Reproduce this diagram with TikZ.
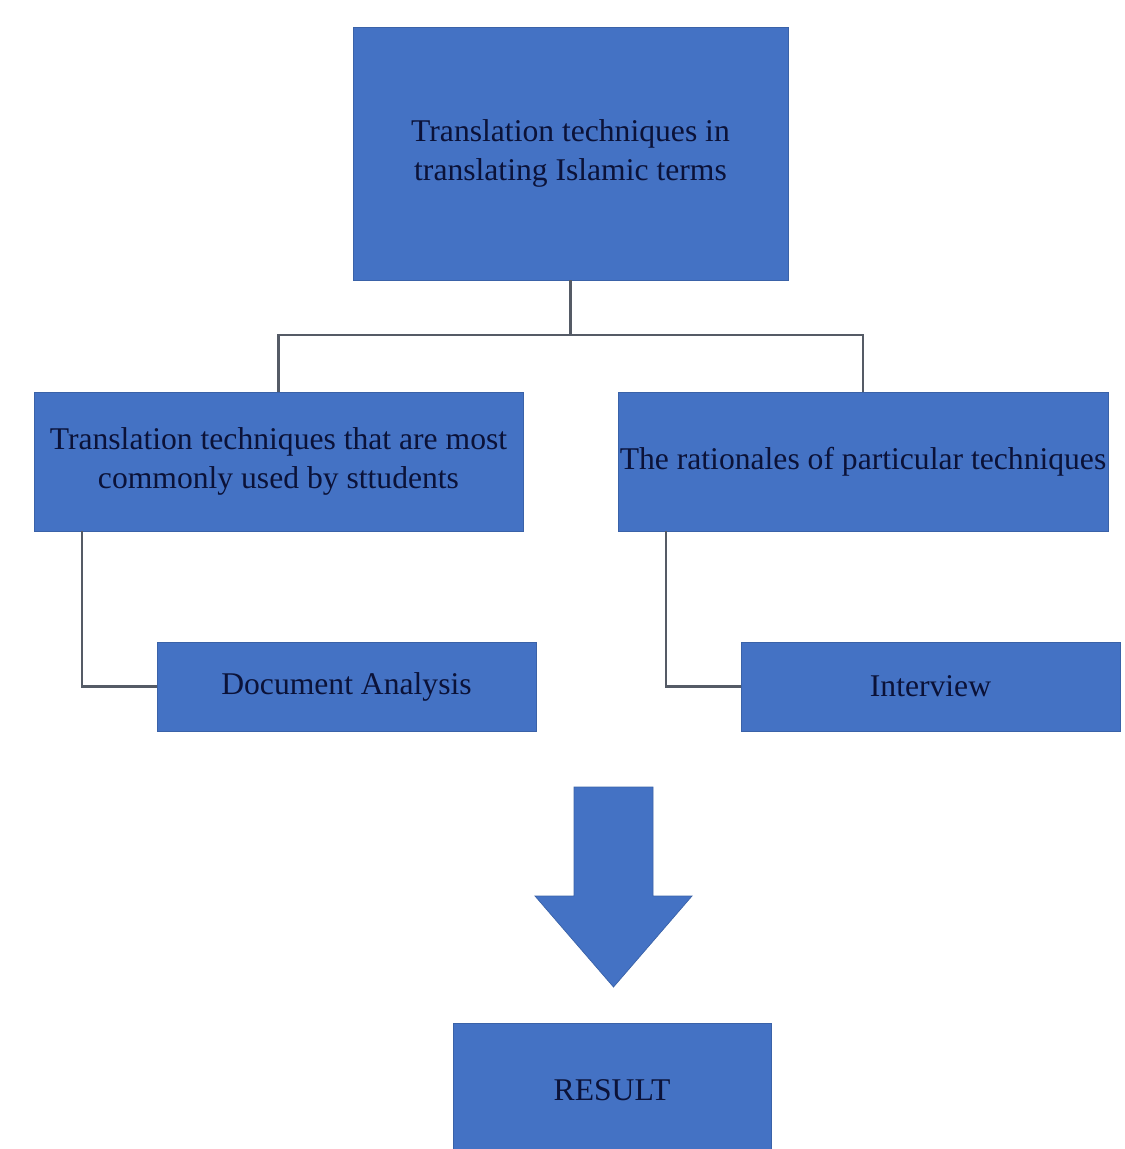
\documentclass[tikz,border=0pt]{standalone}
\usepackage{fontspec}
\setmainfont{Liberation Serif}
\usetikzlibrary{positioning}
\definecolor{boxBlue}{HTML}{4472C4}
\definecolor{boxEdge}{HTML}{3A62A8}
\definecolor{inkNavy}{HTML}{0B1238}
\definecolor{lineGray}{HTML}{555B66}

\begin{document}
\begin{tikzpicture}[x=0.02cm, y=-0.02cm,
                    blkND/.style={rectangle,
                                  fill=boxBlue,
                                  draw=boxEdge,
                                  line width=0.4pt,
                                  inner sep=0pt,
                                  align=center,
                                  text=inkNavy,
                                  font=\fontsize{18}{22}\selectfont},
                    lnk/.style={draw=lineGray, line width=1.2pt}]
            \useasboundingbox (0,0) rectangle (1125,1149);
            % boxes
            \node[blkND, minimum width=8.7cm, minimum height=5.06cm] (goal)      at (570.5,153.5) {Translation techniques in\\translating Islamic terms};
            \node[blkND, minimum width=9.78cm, minimum height=2.78cm] (mostUsed) at (278.5,461.5) {Translation techniques that are most\\commonly used by sttudents};
            \node[blkND, minimum width=9.8cm, minimum height=2.78cm] (rationale) at (863,461.5)   {The rationales of particular techniques};
            \node[blkND, minimum width=7.58cm, minimum height=1.78cm] (docAna)   at (346.5,686.5) {Document Analysis};
            \node[blkND, minimum width=7.58cm, minimum height=1.78cm] (interview) at (930.5,686.5) {Interview};
            \node[blkND, minimum width=6.36cm, minimum height=2.68cm] (result)   at (612,1090)    {RESULT};
            % block arrow
            \filldraw[fill=boxBlue, draw=boxEdge, line width=0.4pt]
                (574,787) -- (653,787) -- (653,896) -- (692,896)
                -- (613.5,987) -- (535,896) -- (574,896) -- cycle;
            % connectors
            \coordinate (fork) at (570.5,335);
            \draw[lnk] (goal.south) -- (fork);
            \draw[lnk] (mostUsed.north) |- (fork) -| (rationale.north);
            \draw[lnk] ([xshift=0.96cm]mostUsed.south west)  |- (docAna.west);
            \draw[lnk] ([xshift=0.96cm]rationale.south west) |- (interview.west);
        \end{tikzpicture}
\end{document}
